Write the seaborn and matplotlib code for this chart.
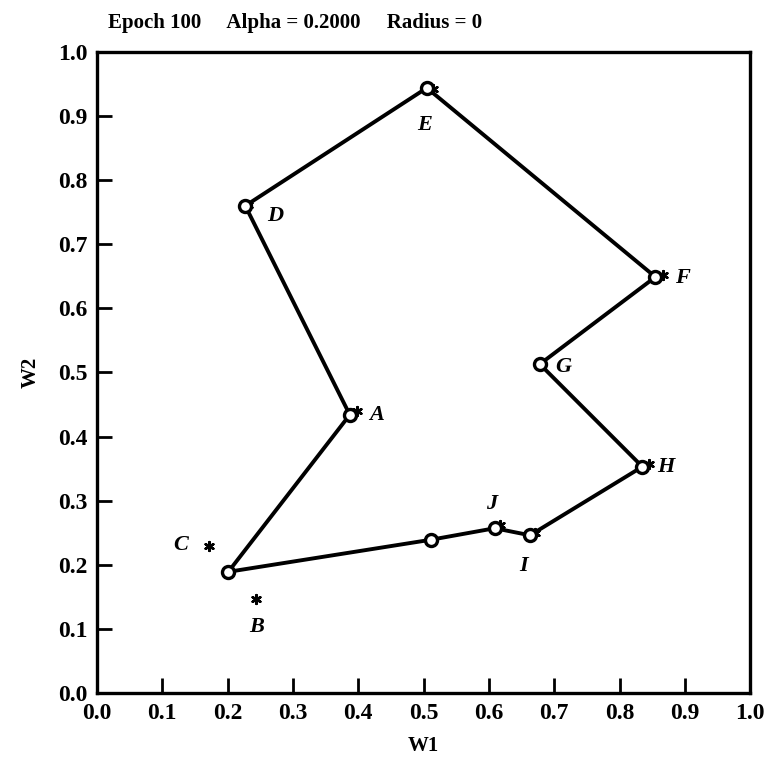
import numpy as np
import pandas as pd
import matplotlib.pyplot as plt
import seaborn as sns

# City positions (asterisks)
city_names = ['A', 'B', 'C', 'D', 'E', 'F', 'G', 'H', 'I', 'J']
city_w1 = [0.398, 0.244, 0.171, 0.231, 0.514, 0.866, 0.680, 0.845, 0.670, 0.617]
city_w2 = [0.440, 0.146, 0.229, 0.762, 0.942, 0.652, 0.515, 0.357, 0.250, 0.262]

# Cluster unit weights after epoch 100, in tour order (circles)
unit_w1 = [0.505, 0.227, 0.387, 0.201, 0.511, 0.609, 0.663, 0.835, 0.678, 0.855]
unit_w2 = [0.944, 0.760, 0.434, 0.189, 0.239, 0.257, 0.246, 0.353, 0.513, 0.649]

# label offsets (points) relative to each city
label_offsets = {'A': (14, -3), 'B': (0, -20), 'C': (-20, 1), 'D': (20, -8),
                 'E': (-6, -26), 'F': (14, -2), 'G': (16, -3), 'H': (12, -2),
                 'I': (-8, -24), 'J': (-6, 15)}

sns.set_style('ticks')
plt.rcParams['font.family'] = ['Liberation Serif', 'DejaVu Serif']
plt.rcParams['text.color'] = 'black'
plt.rcParams['axes.labelcolor'] = 'black'

fig = plt.figure(figsize=(7.67, 7.59), dpi=100)
ax = fig.add_axes([0.1265, 0.087, 0.8515, 0.8445])

tour = pd.DataFrame({'w1': unit_w1 + unit_w1[:1], 'w2': unit_w2 + unit_w2[:1],
                     'step': range(len(unit_w1) + 1)})
sns.lineplot(data=tour, x='w1', y='w2', sort=False, estimator=None,
             color='black', linewidth=2.8, ax=ax, zorder=2)

cities = pd.DataFrame({'w1': city_w1, 'w2': city_w2, 'name': city_names})
sns.scatterplot(data=cities, x='w1', y='w2', marker=(6, 2, 0), s=40,
                color='black', linewidth=1.8, ax=ax, zorder=3)

units = pd.DataFrame({'w1': unit_w1, 'w2': unit_w2})
sns.scatterplot(data=units, x='w1', y='w2', marker='o', s=75,
                facecolor='white', edgecolor='black', linewidth=2.4, ax=ax, zorder=4)

for name, x, y in zip(city_names, city_w1, city_w2):
    dx, dy = label_offsets[name]
    ax.annotate(name, (x, y), xytext=(dx, dy), textcoords='offset points',
                ha='center', va='center', fontsize=16, style='italic',
                fontweight='bold', color='black')

ticks = np.round(np.arange(0, 1.01, 0.1), 1)
ax.set_xlim(0, 1)
ax.set_ylim(0, 1)
ax.set_xticks(ticks)
ax.set_yticks(ticks)
ax.set_xticklabels([f'{t:.1f}' for t in ticks], fontsize=17, fontweight='bold')
ax.set_yticklabels([f'{t:.1f}' for t in ticks], fontsize=17, fontweight='bold')
ax.tick_params(direction='in', length=11, width=2, pad=7, colors='black')
for s in ax.spines.values():
    s.set_visible(True)
    s.set_linewidth(2.4)
    s.set_color('black')

ax.set_xlabel('W1', fontsize=15, fontweight='bold', labelpad=9, color='black')
ax.set_ylabel('W2', fontsize=15, fontweight='bold', labelpad=12, color='black')

fig.text(0.141, 0.97, 'Epoch 100     Alpha = 0.2000     Radius = 0',
         fontsize=15, fontweight='bold', ha='left', va='center', color='black')

fig.savefig('out.png', dpi=100)
